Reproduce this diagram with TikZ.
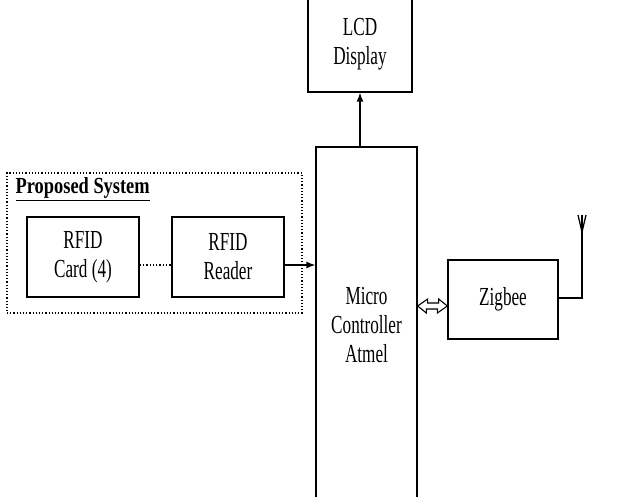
\documentclass[tikz,border=0pt]{standalone}
\usepackage{fontspec}
\setmainfont{Liberation Serif}[FakeStretch=0.66]
\newfontfamily\titlefont{Liberation Serif}[FakeStretch=0.8]
\usetikzlibrary{arrows.meta}
\begin{document}
\begin{tikzpicture}[x=1pt,y=-1pt, line width=1.3pt,
  block/.style={draw, align=center, inner sep=0pt, font=\fontsize{26}{29}\selectfont}]
\useasboundingbox (0,0) rectangle (632,497);
\clip (0,0) rectangle (632,497);
\node[block, minimum width=104, minimum height=96] (lcd) at (360,44) {LCD\\Display};
\node[block, minimum width=101, minimum height=356] (mc) at (366.5,325) {Micro\\Controller\\Atmel};
\node[draw, dotted, line width=1.2pt, minimum width=295, minimum height=140] (sys) at (154.5,243) {};
\node[anchor=base west, inner sep=0pt, font=\titlefont\bfseries\fontsize{23}{26}\selectfont] (title) at (15,194) {\underline{Proposed System}};
\node[block, minimum width=112, minimum height=80] (card) at (83,257) {RFID\\Card (4)};
\node[block, minimum width=112, minimum height=80] (reader) at (228,257) {RFID\\Reader};
\node[block, minimum width=110, minimum height=79] (zig) at (503,299.5) {Zigbee};
\coordinate (ant) at (582,215);
\coordinate (link) at ([yshift=-6.5]zig.west -| mc.east);
\draw[-{Latex[length=9pt,width=7pt]}] (lcd.south |- mc.north) -- (lcd.south);
\draw[dotted] ([yshift=-8]card.east) -- ([yshift=-8]reader.west);
\draw[-{Latex[length=9pt,width=7pt]}] ([yshift=-8]reader.east) -- ([yshift=-8]reader.east -| mc.west);
% hollow two-way arrow to the Zigbee
\draw[line width=1.1pt, line join=miter] (link) -- ++(10,-7) -- ++(0,4) -- ++(11,0) -- ++(0,-4)
  -- (link -| zig.west) -- ++(-10,7) -- ++(0,-4) -- ++(-11,0) -- ++(0,4) -- cycle;
\draw ([yshift=1.5]zig.east) -| (ant);
\draw ([xshift=-4]ant) -- ([yshift=-17]ant) -- ([xshift=4]ant);
\end{tikzpicture}
\end{document}
